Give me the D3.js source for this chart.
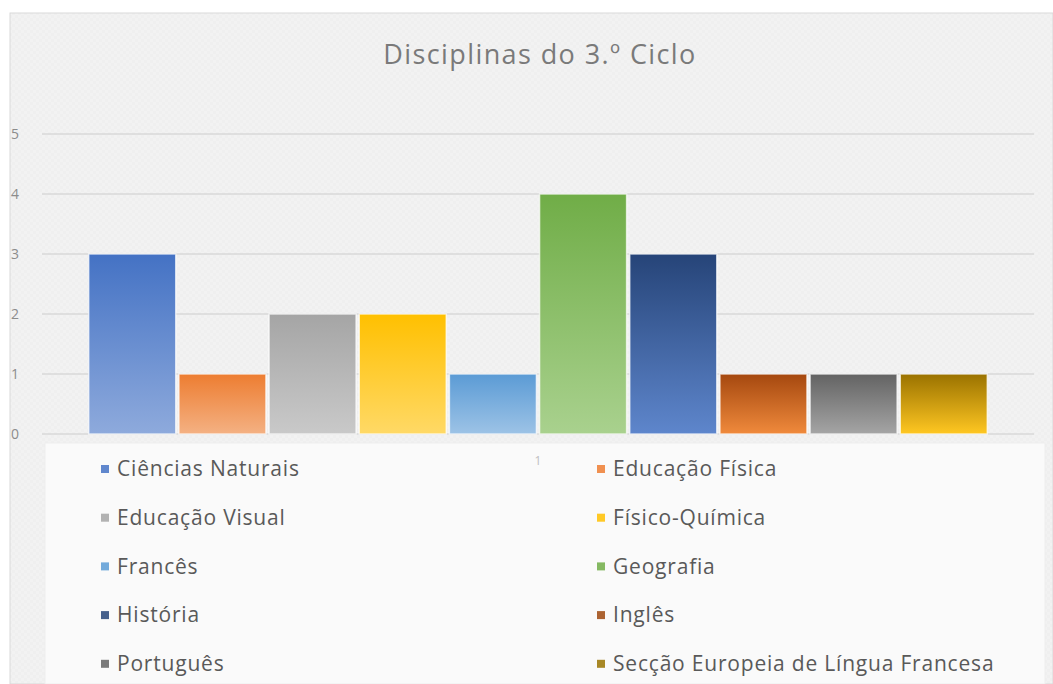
<!DOCTYPE html>
<html>
<head>
<meta charset="utf-8">
<script src="https://cdn.jsdelivr.net/npm/d3@7"></script>
<style>
  html, body { margin: 0; padding: 0; background: #ffffff; }
  svg { display: block; font-family: "Open Sans", "Noto Sans", sans-serif; }
</style>
</head>
<body>
<div id="chart"></div>
<script>
// Data
const categories = ['1'];
const subjects = [
    'Ciências Naturais', 'Educação Física', 'Educação Visual', 'Físico-Química',
    'Francês', 'Geografia', 'História', 'Inglês', 'Português',
    'Secção Europeia de Língua Francesa'
];
const counts = [3, 1, 2, 2, 1, 4, 3, 1, 1, 1];
const yTicks = [0, 1, 2, 3, 4, 5];
const chartTitle = 'Disciplinas do 3.º Ciclo';

// Gradient colours per subject: top, bottom
const topColors = ['#4472c4', '#ed7d31', '#a5a5a5', '#ffc000', '#5b9bd5', '#70ad47', '#264478', '#a5480f', '#636363', '#9a7200'];
const bottomColors = ['#8eaadc', '#f4b183', '#c9c9c9', '#ffd966', '#9dc3e6', '#a9d18e', '#5e86cc', '#f08a3c', '#a5a5a5', '#ffc722'];
const legendColors = ['#4472c4', '#ed7d31', '#a5a5a5', '#ffc000', '#5b9bd5', '#70ad47', '#264478', '#9e480e', '#636363', '#997300'];

const width = 1053, height = 684;

const svg = d3.select('#chart')
    .append('svg')
    .attr('width', width)
    .attr('height', height);

const defs = svg.append('defs');

// subtle checker texture of the chart background
const pat = defs.append('pattern')
    .attr('id', 'bgPattern')
    .attr('width', 6).attr('height', 6)
    .attr('patternUnits', 'userSpaceOnUse');
pat.append('rect').attr('width', 6).attr('height', 6).attr('fill', '#f2f2f2');
pat.append('rect').attr('width', 3).attr('height', 3).attr('fill', '#efefef');
pat.append('rect').attr('x', 3).attr('y', 3).attr('width', 3).attr('height', 3).attr('fill', '#efefef');

subjects.forEach((s, i) => {
    const g = defs.append('linearGradient')
        .attr('id', 'grad' + i)
        .attr('x1', 0).attr('y1', 0).attr('x2', 0).attr('y2', 1);
    g.append('stop').attr('offset', '0%').attr('stop-color', topColors[i]);
    g.append('stop').attr('offset', '100%').attr('stop-color', bottomColors[i]);
});

// chart area
svg.append('rect')
    .attr('x', 10).attr('y', 13)
    .attr('width', width - 10).attr('height', height - 13)
    .attr('fill', 'url(#bgPattern)')
    .attr('stroke', '#d9d9d9')
    .attr('stroke-width', 1);

// title
svg.append('text')
    .attr('x', 540)
    .attr('y', 64)
    .attr('text-anchor', 'middle')
    .attr('font-size', 27)
    .attr('letter-spacing', 1.4)
    .attr('fill', '#7a7a7a')
    .text(chartTitle);

// scales
const plotLeft = 42, plotRight = 1034;
const y = d3.scaleLinear().domain([0, 5]).range([434, 134]);

const x0 = d3.scaleBand()
    .domain(categories)
    .range([plotLeft, plotRight])
    .paddingOuter(0.052);

const x1 = d3.scaleBand()
    .domain(subjects)
    .range([0, x0.bandwidth()])
    .paddingInner(0.035);

// gridlines
svg.append('g')
    .selectAll('line')
    .data(yTicks)
    .enter()
    .append('line')
    .attr('x1', plotLeft).attr('x2', plotRight)
    .attr('y1', d => y(d)).attr('y2', d => y(d))
    .attr('stroke', '#d9d9d9')
    .attr('stroke-width', 1.5);

// y axis labels
const yAxis = d3.axisLeft(y).tickValues(yTicks).tickFormat(d3.format('d')).tickSize(0).tickPadding(0);
svg.append('g')
    .attr('transform', 'translate(19,0)')
    .call(yAxis)
    .call(g => g.select('.domain').remove())
    .call(g => g.selectAll('text')
        .attr('font-size', 14)
        .attr('fill', '#8c8c8c')
        .attr('font-family', '"Open Sans", sans-serif'));

// legend panel
svg.append('rect')
    .attr('x', 45).attr('y', 443)
    .attr('width', 1000).attr('height', height - 443)
    .attr('fill', '#fafafa')
    .attr('stroke', '#eeeeee');

// bars
const groups = svg.append('g')
    .selectAll('g')
    .data(categories)
    .enter()
    .append('g')
    .attr('transform', d => `translate(${x0(d)},0)`);

groups.selectAll('rect')
    .data(subjects.map((s, i) => ({ name: s, value: counts[i], i })))
    .enter()
    .append('rect')
    .attr('x', d => x1(d.name))
    .attr('y', d => y(d.value))
    .attr('width', x1.bandwidth())
    .attr('height', d => y(0) - y(d.value))
    .attr('fill', d => `url(#grad${d.i})`)
    .attr('stroke', '#ffffff')
    .attr('stroke-opacity', 0.7)
    .attr('stroke-width', 1.5);

// category label
const xAxis = d3.axisBottom(x0).tickSize(0).tickPadding(0);
svg.append('g')
    .attr('transform', 'translate(0,456)')
    .call(xAxis)
    .call(g => g.select('.domain').remove())
    .call(g => g.selectAll('text')
        .attr('font-size', 12)
        .attr('fill', '#c0c0c0')
        .attr('font-family', '"Open Sans", sans-serif'));

// legend
const legendCols = [101, 597];
const legendRow0 = 469, legendRowStep = 48.7;

const legend = svg.append('g')
    .selectAll('g')
    .data(subjects)
    .enter()
    .append('g')
    .attr('transform', (d, i) => `translate(${legendCols[i % 2]},${legendRow0 + Math.floor(i / 2) * legendRowStep})`);

legend.append('rect')
    .attr('x', 0).attr('y', -4)
    .attr('width', 8).attr('height', 8)
    .attr('fill', (d, i) => legendColors[i])
    .attr('opacity', 0.85);

legend.append('text')
    .attr('x', 16)
    .attr('y', 0)
    .attr('dy', '0.35em')
    .attr('font-size', 21)
    .attr('letter-spacing', 0.8)
    .attr('fill', '#595959')
    .text(d => d);
</script>
</body>
</html>
